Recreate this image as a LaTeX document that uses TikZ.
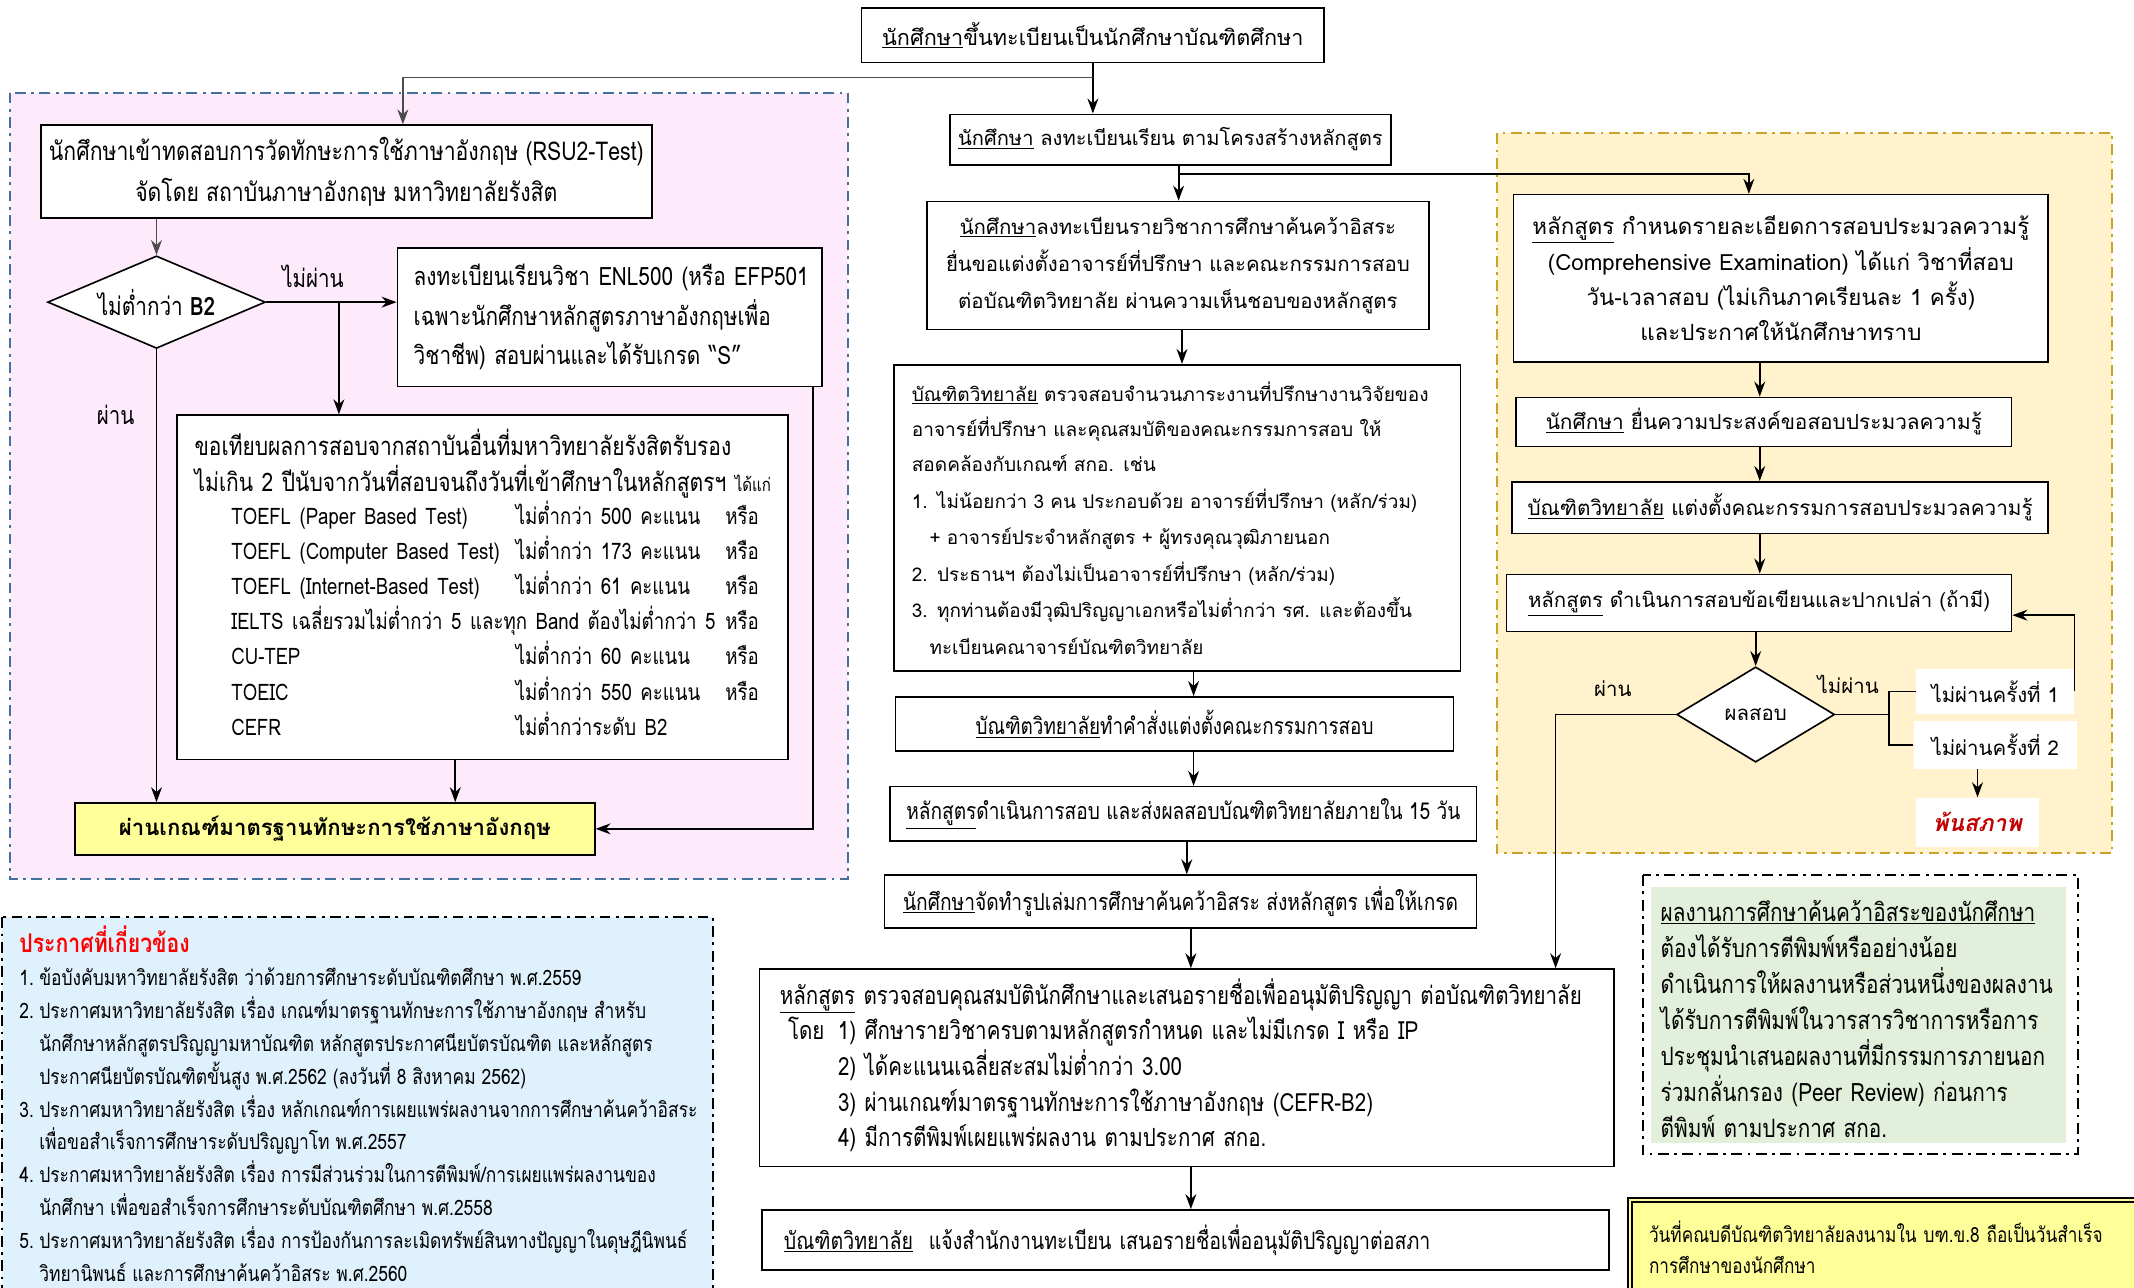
\documentclass[tikz,border=0pt]{standalone}
\usepackage{fontspec}
\setmainfont{Loma}[Script=Thai]
\newfontfamily\thnarrow{Loma}[Script=Thai, FakeStretch=0.82]
\usetikzlibrary{positioning,arrows.meta,shapes.geometric}
\definecolor{pinkbg}{HTML}{FDEBFC}
\definecolor{blueline}{HTML}{41719C}
\definecolor{goldbg}{HTML}{FFF2CC}
\definecolor{goldline}{HTML}{C9A227}
\definecolor{bluebg}{HTML}{DEF1FD}
\definecolor{greenbg}{HTML}{E2EFDA}
\definecolor{lemon}{HTML}{FFFF99}
\definecolor{darkred}{HTML}{C00000}
\newcommand\fsz[2]{\fontsize{#1}{#2}\selectfont}

\begin{document}
\begin{tikzpicture}[x=1pt, y=-1pt, font=\fsz{15}{26},
		box/.style={draw, line width=1.2pt, fill=white, inner sep=6pt},
		decide/.style={diamond, draw, line width=1.2pt, fill=white, inner sep=0pt},
		region/.style={line width=1.5pt, dash pattern=on 8pt off 4pt on 2pt off 4pt},
		arr/.style={line width=1.3pt, -{Stealth[length=11pt, width=8pt]}},
		link/.style={line width=1.3pt}]
		\useasboundingbox (0,0) rectangle (1568,946);

		% coloured panels
		\draw[region, draw=blueline, fill=pinkbg] (7,68) rectangle (623,646);
		\draw[region, draw=goldline, fill=goldbg] (1100,98) rectangle (1552,627);
		\draw[region, draw=black, fill=bluebg] (1.5,674) rectangle (524,960);
		\fill[greenbg] (1213,652) rectangle (1518,840);
		\draw[region, draw=black, line width=1.2pt] (1207,643) rectangle (1527,848);

		% main column
		\node[box, minimum width=340, minimum height=40, font=\fsz{15.9}{26}] (enroll) at (803,26) {\underline{นักศึกษา}ขึ้นทะเบียนเป็นนักศึกษาบัณฑิตศึกษา};
		\node[box, minimum width=320, minimum height=37, font=\fsz{14.8}{26}] (register) at (860,102.5) {\underline{นักศึกษา} ลงทะเบียนเรียน ตามโครงสร้างหลักสูตร};
		\node[box, minimum width=369, minimum height=94, align=center, font=\fsz{15}{27}] (research) at (865.5,195) {\underline{นักศึกษา}ลงทะเบียนรายวิชาการศึกษาค้นคว้าอิสระ\\ยื่นขอแต่งตั้งอาจารย์ที่ปรึกษา และคณะกรรมการสอบ\\ต่อบัณฑิตวิทยาลัย ผ่านความเห็นชอบของหลักสูตร};
		\node[box, minimum width=416, minimum height=225, inner xsep=13pt, text width=390, align=left, font=\fsz{14}{26}] (check) at (865,380.5) {\underline{บัณฑิตวิทยาลัย} ตรวจสอบจำนวนภาระงานที่ปรึกษางานวิจัยของ\\อาจารย์ที่ปรึกษา และคุณสมบัติของคณะกรรมการสอบ ให้\\สอดคล้องกับเกณฑ์ สกอ. เช่น\par
			\fsz{13.9}{26.8}1. ไม่น้อยกว่า 3 คน ประกอบด้วย อาจารย์ที่ปรึกษา (หลัก/ร่วม)\\\hspace*{13pt}+ อาจารย์ประจำหลักสูตร + ผู้ทรงคุณวุฒิภายนอก\\2. ประธานฯ ต้องไม่เป็นอาจารย์ที่ปรึกษา (หลัก/ร่วม)\\3. ทุกท่านต้องมีวุฒิปริญญาเอกหรือไม่ต่ำกว่า รศ. และต้องขึ้น\\\hspace*{13pt}ทะเบียนคณาจารย์บัณฑิตวิทยาลัย\par};
		\node[box, minimum width=410, minimum height=40, font=\thnarrow\fsz{16.9}{26}] (order) at (863,532) {\underline{บัณฑิตวิทยาลัย}ทำคำสั่งแต่งตั้งคณะกรรมการสอบ};
		\node[box, minimum width=431, minimum height=40, font=\thnarrow\fsz{17.1}{26}] (send) at (869.5,598) {\underline{หลักสูตร}ดำเนินการสอบ และส่งผลสอบบัณฑิตวิทยาลัยภายใน 15 วัน};
		\node[box, minimum width=435, minimum height=39, font=\thnarrow\fsz{17.2}{26}] (bind) at (867.5,662.5) {\underline{นักศึกษา}จัดทำรูปเล่มการศึกษาค้นคว้าอิสระ ส่งหลักสูตร เพื่อให้เกรด};
		\node[box, minimum width=628, minimum height=145, inner xsep=15pt, text width=598, align=left, font=\thnarrow\fsz{18.4}{26}] (approve) at (872,784.5) {\underline{หลักสูตร} ตรวจสอบคุณสมบัตินักศึกษาและเสนอรายชื่อเพื่ออนุมัติปริญญา ต่อบัณฑิตวิทยาลัย\par
			\begin{tabular}{@{\hspace{6pt}}l@{\hspace{10pt}}l@{}}
				โดย & 1) ศึกษารายวิชาครบตามหลักสูตรกำหนด และไม่มีเกรด I หรือ IP\\
				& 2) ได้คะแนนเฉลี่ยสะสมไม่ต่ำกว่า 3.00\\
				& 3) ผ่านเกณฑ์มาตรฐานทักษะการใช้ภาษาอังกฤษ (CEFR-B2)\\
				& 4) มีการตีพิมพ์เผยแพร่ผลงาน ตามประกาศ สกอ.
			\end{tabular}};
		\node[box, minimum width=622, minimum height=44, inner xsep=16pt, text width=590, align=left, font=\thnarrow\fsz{17.5}{26}] (notify) at (871,911) {\underline{บัณฑิตวิทยาลัย}\ \ แจ้งสำนักงานทะเบียน เสนอรายชื่อเพื่ออนุมัติปริญญาต่อสภา};

		% English test panel
		\node[box, minimum width=449, minimum height=68, align=center, font=\thnarrow\fsz{19}{30}] (rsu) at (254.5,126) {นักศึกษาเข้าทดสอบการวัดทักษะการใช้ภาษาอังกฤษ (RSU2-Test)\\จัดโดย สถาบันภาษาอังกฤษ มหาวิทยาลัยรังสิต};
		\node[decide, minimum width=160, minimum height=68, aspect=2.35, font=\thnarrow\fsz{18.6}{26}] (b2) at (115,222) {ไม่ต่ำกว่า \textbf{B2}};
		\node[box, minimum width=312, minimum height=102, inner xsep=12pt, text width=288, align=left, font=\thnarrow\fsz{18.6}{29}] (engl) at (448,233) {\mbox{ลงทะเบียนเรียนวิชา ENL500 (หรือ EFP501}\\\mbox{เฉพาะนักศึกษาหลักสูตรภาษาอังกฤษเพื่อ}\\\mbox{วิชาชีพ) สอบผ่านและได้รับเกรด “S”}};
		\node[box, minimum width=449, minimum height=253, inner xsep=13pt, text width=423, align=left, font=\thnarrow\fsz{18.8}{27}] (equiv) at (354.5,431.5) {\mbox{ขอเทียบผลการสอบจากสถาบันอื่นที่มหาวิทยาลัยรังสิตรับรอง}\\\mbox{ไม่เกิน 2 ปีนับจากวันที่สอบจนถึงวันที่เข้าศึกษาในหลักสูตรฯ {\fsz{13.5}{27}ได้แก่}}\par
			\fsz{16.7}{25.8}\begin{tabular}{@{\hspace{27pt}}p{209pt}@{}p{154pt}@{}l@{}}
				TOEFL (Paper Based Test) & ไม่ต่ำกว่า 500 คะแนน & หรือ\\
				TOEFL (Computer Based Test) & ไม่ต่ำกว่า 173 คะแนน & หรือ\\
				TOEFL (Internet-Based Test) & ไม่ต่ำกว่า 61 คะแนน & หรือ\\
				\multicolumn{2}{@{\hspace{27pt}}l@{}}{IELTS เฉลี่ยรวมไม่ต่ำกว่า 5 และทุก Band ต้องไม่ต่ำกว่า 5} & หรือ\\
				CU-TEP & ไม่ต่ำกว่า 60 คะแนน & หรือ\\
				TOEIC & ไม่ต่ำกว่า 550 คะแนน & หรือ\\
				CEFR & ไม่ต่ำกว่าระดับ B2 &
			\end{tabular}};
		\node[box, fill=lemon, minimum width=382, minimum height=38, font=\bfseries\fsz{16.3}{26}] (pass) at (246,609) {ผ่านเกณฑ์มาตรฐานทักษะการใช้ภาษาอังกฤษ};
		\node[font=\thnarrow\fsz{18.4}{26}] (nopass1) at (230,203) {ไม่ผ่าน};
		\node[font=\thnarrow\fsz{18.4}{26}] (pass1) at (85,305) {ผ่าน};

		% comprehensive exam panel
		\node[box, minimum width=393, minimum height=123, align=center, font=\fsz{16.4}{26}] (compre) at (1308.5,204.5) {\underline{หลักสูตร} กำหนดรายละเอียดการสอบประมวลความรู้\\(Comprehensive Examination) ได้แก่ วิชาที่สอบ\\วัน-เวลาสอบ (ไม่เกินภาคเรียนละ 1 ครั้ง)\\และประกาศให้นักศึกษาทราบ};
		\node[box, minimum width=364, minimum height=36, font=\fsz{15.3}{26}] (wish) at (1296,310) {\underline{นักศึกษา} ยื่นความประสงค์ขอสอบประมวลความรู้};
		\node[box, minimum width=394, minimum height=38, font=\fsz{15.2}{26}] (board) at (1308,373) {\underline{บัณฑิตวิทยาลัย} แต่งตั้งคณะกรรมการสอบประมวลความรู้};
		\node[box, minimum width=371, minimum height=42] (exam) at (1292.5,443) {\underline{หลักสูตร} ดำเนินการสอบข้อเขียนและปากเปล่า (ถ้ามี)};
		\node[decide, minimum width=116, minimum height=70, aspect=1.66] (result) at (1290,525) {ผลสอบ};
		\node (pass2) at (1185,506) {ผ่าน};
		\node (nopass2) at (1358,503) {ไม่ผ่าน};
		\node[fill=white, minimum width=116, minimum height=33] (fail1) at (1466,508) {ไม่ผ่านครั้งที่ 1};
		\node[fill=white, minimum width=120, minimum height=35] (fail2) at (1466,547.5) {ไม่ผ่านครั้งที่ 2};
		\node[fill=white, minimum width=90, minimum height=36, text=darkred, font=\bfseries\itshape\fsz{17}{26}] (out) at (1453,604) {พ้นสภาพ};

		% notes
		\node[anchor=north west, inner sep=0pt, align=left, font=\thnarrow\fsz{15.6}{24.2}] (notes) at (14,680) {\begin{tabular}{@{}l@{\hspace{4pt}}l@{}}
				\multicolumn{2}{@{}l@{}}{\color{red}\bfseries\fsz{19}{24.2}ประกาศที่เกี่ยวข้อง}\\
				1. & ข้อบังคับมหาวิทยาลัยรังสิต ว่าด้วยการศึกษาระดับบัณฑิตศึกษา พ.ศ.2559\\
				2. & ประกาศมหาวิทยาลัยรังสิต เรื่อง เกณฑ์มาตรฐานทักษะการใช้ภาษาอังกฤษ สำหรับ\\
				& นักศึกษาหลักสูตรปริญญามหาบัณฑิต หลักสูตรประกาศนียบัตรบัณฑิต และหลักสูตร\\
				& ประกาศนียบัตรบัณฑิตขั้นสูง พ.ศ.2562 (ลงวันที่ 8 สิงหาคม 2562)\\
				3. & ประกาศมหาวิทยาลัยรังสิต เรื่อง หลักเกณฑ์การเผยแพร่ผลงานจากการศึกษาค้นคว้าอิสระ\\
				& เพื่อขอสำเร็จการศึกษาระดับปริญญาโท พ.ศ.2557\\
				4. & ประกาศมหาวิทยาลัยรังสิต เรื่อง การมีส่วนร่วมในการตีพิมพ์/การเผยแพร่ผลงานของ\\
				& นักศึกษา เพื่อขอสำเร็จการศึกษาระดับบัณฑิตศึกษา พ.ศ.2558\\
				5. & ประกาศมหาวิทยาลัยรังสิต เรื่อง การป้องกันการละเมิดทรัพย์สินทางปัญญาในดุษฎีนิพนธ์\\
				& วิทยานิพนธ์ และการศึกษาค้นคว้าอิสระ พ.ศ.2560
			\end{tabular}};
		\node[anchor=north west, inner sep=0pt, text width=300, align=left, font=\thnarrow\fsz{18.6}{26.5}] (works) at (1220,661) {\underline{ผลงานการศึกษาค้นคว้าอิสระของนักศึกษา}\\ต้องได้รับการตีพิมพ์หรืออย่างน้อย\\ดำเนินการให้ผลงานหรือส่วนหนึ่งของผลงาน\\ได้รับการตีพิมพ์ในวารสารวิชาการหรือการ\\ประชุมนำเสนอผลงานที่มีกรรมการภายนอก\\ร่วมกลั่นกรอง (Peer Review) ก่อนการ\\ตีพิมพ์ ตามประกาศ สกอ.};
		\node[anchor=north west, draw, line width=1.3pt, double=lemon, double distance=2pt, fill=lemon, minimum width=380, minimum height=70, text width=352, align=left, font=\thnarrow\fsz{15.4}{23}] (done) at (1197,881) {วันที่คณบดีบัณฑิตวิทยาลัยลงนามใน บฑ.ข.8 ถือเป็นวันสำเร็จ\\การศึกษาของนักศึกษา};

		% connectors
		\coordinate (split1) at (803,57);
		\coordinate (split2) at (249,222);
		\coordinate (split3) at (866,128);
		\coordinate (fork) at (1388,525);
		\draw[arr] (enroll.south) -- (enroll.south |- register.north);
		\draw[arr, black!70] (split1) -| ([xshift=41.5]rsu.north);
		\draw[arr, black!70] (rsu.south -| b2.north) -- (b2.north);
		\draw[arr] (b2.east) -- (b2.east -| engl.west);
		\draw[arr] (split2) -- (split2 |- equiv.north);
		\draw[arr] (b2.south) -- (b2.south |- pass.north);
		\draw[arr] ([xshift=-20]equiv.south) -- ([xshift=-20]equiv.south |- pass.north);
		\draw[arr] ([xshift=-7]engl.south east) |- (pass.east);
		\draw[arr] (register.south -| split3) -- (split3 |- research.north);
		\draw[arr] (split3) -| ([xshift=-23.5]compre.north);
		\draw[arr] ([xshift=3]research.south) -- ([xshift=3]research.south |- check.north);
		\draw[arr] ([xshift=12]check.south) -- ([xshift=12]check.south |- order.north);
		\draw[arr] ([xshift=14]order.south) -- ([xshift=14]order.south |- send.north);
		\draw[arr] ([xshift=2.5]send.south) -- ([xshift=2.5]send.south |- bind.north);
		\draw[arr] ([xshift=7.5]bind.south) -- ([xshift=7.5]bind.south |- approve.north);
		\draw[arr] ([xshift=3]approve.south) -- ([xshift=3]approve.south |- notify.north);
		\draw[arr] ([xshift=-15.5]compre.south) -- ([xshift=-15.5]compre.south |- wish.north);
		\draw[arr] ([xshift=-3]wish.south) -- ([xshift=-3]wish.south |- board.north);
		\draw[arr] ([xshift=-15]board.south) -- ([xshift=-15]board.south |- exam.north);
		\draw[arr] (exam.south -| result.north) -- (result.north);
		\draw[arr] (result.west) -| ([xshift=271]approve.north);
		\draw[link] (result.east) -- (fork);
		\draw[link] (fail1.west) -| (fork) |- (fail2.west);
		\draw[arr] (fail1.east) |- ([yshift=-9]exam.east);
		\draw[arr] (fail2.south -| out.north) -- (out.north);
	\end{tikzpicture}
\end{document}
